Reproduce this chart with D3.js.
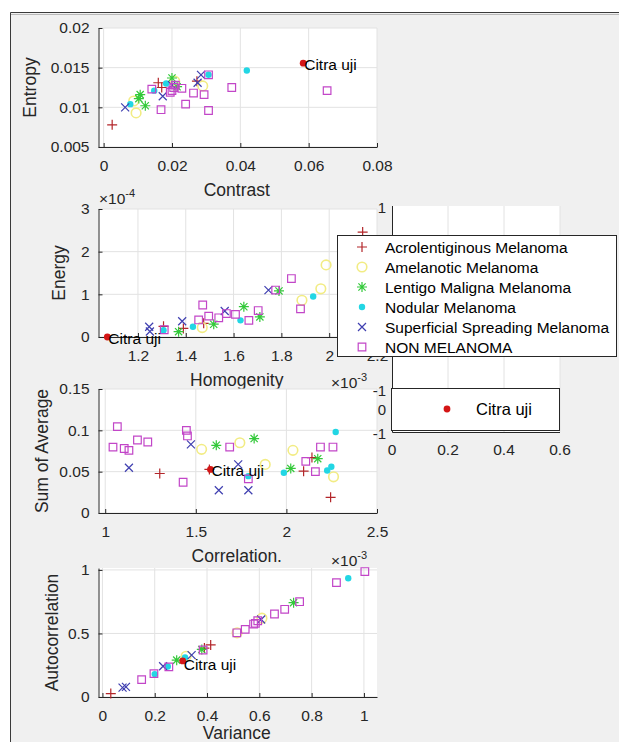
<!DOCTYPE html>
<html>
<head>
<meta charset="utf-8">
<script src="https://d3js.org/d3.v7.min.js"></script>
<style>
  body{ margin: 0; background: #fff; font-family: "Liberation Sans", Arial, Helvetica, sans-serif;}
  svg{ display: block;}
</style>
</head>
<body>
<script>
// class keys in the order of the legend
var classKeys = ['acro', 'amel', 'lentigo', 'nodular', 'ssm', 'non']
var classNames = ['Acrolentiginous Melanoma', 'Amelanotic Melanoma', 'Lentigo Maligna Melanoma',
  'Nodular Melanoma', 'Superficial Spreading Melanoma', 'NON MELANOMA']

// [class, x, y]
var contrastEntropy = [
  ['acro', 0.0025, 0.0078], ['acro', 0.016, 0.0131], ['acro', 0.017, 0.0125], ['acro', 0.0273, 0.0133],
  ['amel', 0.0095, 0.0093], ['amel', 0.0088, 0.0108], ['amel', 0.0208, 0.0133], ['amel', 0.029, 0.0127],
  ['lentigo', 0.0107, 0.0116], ['lentigo', 0.0103, 0.0111], ['lentigo', 0.0122, 0.0102], ['lentigo', 0.02, 0.0137], ['lentigo', 0.0215, 0.0126],
  ['nodular', 0.0078, 0.0104], ['nodular', 0.0148, 0.0121], ['nodular', 0.0183, 0.013], ['nodular', 0.0307, 0.0141], ['nodular', 0.0419, 0.01465],
  ['ssm', 0.0063, 0.01], ['ssm', 0.0173, 0.0114], ['ssm', 0.0275, 0.0131], ['ssm', 0.0285, 0.0141], ['ssm', 0.02, 0.0128],
  ['non', 0.0141, 0.0123], ['non', 0.0168, 0.0097], ['non', 0.0195, 0.0119], ['non', 0.02, 0.0121], ['non', 0.0205, 0.0125],
  ['non', 0.021, 0.0128], ['non', 0.0229, 0.0124], ['non', 0.024, 0.0104], ['non', 0.0263, 0.0118], ['non', 0.0294, 0.0116],
  ['non', 0.0307, 0.0096], ['non', 0.0307, 0.0141], ['non', 0.0375, 0.0125], ['non', 0.0654, 0.0121],
  ['citra', 0.0584, 0.01557]
]

// homogenity x 1e-3, energy x 1e-4
var homogenityEnergy = [
  ['acro', 1.307, 0.25], ['acro', 1.475, 0.32], ['acro', 1.39, 0.2], ['acro', 2.14, 2.46],
  ['amel', 1.469, 0.22], ['amel', 1.987, 1.69], ['amel', 1.965, 1.13], ['amel', 1.886, 0.86],
  ['lentigo', 1.37, 0.125], ['lentigo', 1.517, 0.3], ['lentigo', 1.643, 0.71], ['lentigo', 1.71, 0.47], ['lentigo', 1.79, 1.08],
  ['nodular', 1.307, 0.16], ['nodular', 1.43, 0.24], ['nodular', 1.629, 0.39], ['nodular', 1.933, 0.95],
  ['ssm', 1.247, 0.24], ['ssm', 1.25, 0.13], ['ssm', 1.385, 0.37], ['ssm', 1.563, 0.61], ['ssm', 1.746, 1.1],
  ['non', 1.471, 0.75], ['non', 1.454, 0.4], ['non', 1.496, 0.49], ['non', 1.538, 0.45], ['non', 1.57, 0.55],
  ['non', 1.608, 0.53], ['non', 1.664, 0.39], ['non', 1.703, 0.62], ['non', 1.776, 1.1], ['non', 1.842, 1.37],
  ['non', 1.88, 0.66], ['non', 1.31, 0.17],
  ['citra', 1.072, 0]
]

// correlation x 1e-3
var correlationSumAvg = [
  ['acro', 1.301, 0.0478], ['acro', 1.575, 0.0527], ['acro', 2.095, 0.0506], ['acro', 2.141, 0.067], ['acro', 2.244, 0.019],
  ['amel', 1.532, 0.077], ['amel', 1.743, 0.085], ['amel', 1.883, 0.0588], ['amel', 2.036, 0.0758], ['amel', 2.26, 0.0438],
  ['lentigo', 1.613, 0.0819], ['lentigo', 1.822, 0.09], ['lentigo', 2.024, 0.0539], ['lentigo', 2.173, 0.0657],
  ['nodular', 1.986, 0.0487], ['nodular', 1.79, 0.0446], ['nodular', 2.272, 0.098], ['nodular', 2.225, 0.0515], ['nodular', 2.248, 0.056],
  ['ssm', 1.131, 0.0547], ['ssm', 1.473, 0.0831], ['ssm', 1.627, 0.0275], ['ssm', 1.734, 0.0588], ['ssm', 1.79, 0.0275],
  ['non', 1.067, 0.1045], ['non', 1.043, 0.0797], ['non', 1.105, 0.078], ['non', 1.131, 0.0758], ['non', 1.178, 0.0883],
  ['non', 1.235, 0.0859], ['non', 1.43, 0.0372], ['non', 1.448, 0.1], ['non', 1.454, 0.0932], ['non', 1.687, 0.0798],
  ['non', 1.79, 0.0413], ['non', 2.188, 0.0798], ['non', 2.257, 0.0798], ['non', 2.107, 0.0625], ['non', 2.16, 0.05],
  ['citra', 1.581, 0.0527]
]

// variance x 1e-3
var varianceAutocorr = [
  ['acro', 0.032, 0.027], ['acro', 0.414, 0.41], ['acro', 0.39, 0.385],
  ['amel', 0.61, 0.62], ['amel', 0.32, 0.32], ['amel', 0.515, 0.505],
  ['lentigo', 0.731, 0.742], ['lentigo', 0.284, 0.29], ['lentigo', 0.38, 0.374],
  ['nodular', 0.94, 0.934], ['nodular', 0.2, 0.18], ['nodular', 0.25, 0.24], ['nodular', 0.316, 0.311],
  ['ssm', 0.077, 0.074], ['ssm', 0.09, 0.08], ['ssm', 0.232, 0.242], ['ssm', 0.341, 0.329], ['ssm', 0.607, 0.61],
  ['non', 0.15, 0.137], ['non', 0.197, 0.184], ['non', 0.254, 0.237], ['non', 0.514, 0.505], ['non', 0.546, 0.532],
  ['non', 0.578, 0.574], ['non', 0.594, 0.6], ['non', 0.585, 0.58], ['non', 0.658, 0.653], ['non', 0.697, 0.69],
  ['non', 0.754, 0.75], ['non', 0.895, 0.9], ['non', 1.0035, 0.987], ['non', 0.385, 0.37],
  ['citra', 0.307, 0.284]
]

var contrastTicks = [0, 0.02, 0.04, 0.06, 0.08]
var entropyTicks = [0.005, 0.01, 0.015, 0.02]
var homogenityTicks = [1.2, 1.4, 1.6, 1.8, 2, 2.2]
var energyTicks = [0, 1, 2, 3]
var correlationTicks = [1, 1.5, 2, 2.5]
var sumAvgTicks = [0, 0.05, 0.1, 0.15]
var varianceTicks = [0, 0.2, 0.4, 0.6, 0.8, 1]
var autocorrTicks = [0, 0.5, 1]
var emptyXTicks = [0, 0.2, 0.4, 0.6]

var W = 619, H = 742
var axisColor = '#262626', gridColor = '#e2e2e2'
var fontFam = '"Liberation Sans", Arial, Helvetica, sans-serif'

var markers = {
  acro:    { d: 'M-5,0H5M0,-5V5', stroke: '#b3262a', fill: 'none', w: 1.2 },
  amel:    { circle: 4.8, stroke: '#f2ec84', fill: 'none', w: 1.6 },
  lentigo: { d: 'M-5,0H5M0,-5V5M-3.6,-3.6L3.6,3.6M-3.6,3.6L3.6,-3.6', stroke: '#33c93a', fill: 'none', w: 1.2 },
  nodular: { circle: 3.2, stroke: 'none', fill: '#22d6e4', w: 0 },
  ssm:     { d: 'M-4,-4L4,4M-4,4L4,-4', stroke: '#3f3fb0', fill: 'none', w: 1.2 },
  non:     { d: 'M-3.8,-3.8H3.8V3.8H-3.8Z', stroke: '#c246c8', fill: 'none', w: 1.2 },
  citra:   { circle: 3.4, stroke: 'none', fill: '#d41515', w: 0 }
}

var svg = d3.select('body').append('svg').attr('width', W).attr('height', H)
  .style('font-family', fontFam)

// window frame
svg.append('rect').attr('width', W).attr('height', H).attr('fill', '#fff')
svg.append('rect').attr('x', 10).attr('y', 12).attr('width', W - 10).attr('height', H - 12)
  .attr('fill', '#f0f0f0')
svg.append('path').attr('d', 'M10.5,' + H + 'V12.5H' + W).attr('fill', 'none').attr('stroke', '#3a3a3a')
svg.append('path').attr('d', 'M11,14.5H' + W).attr('fill', 'none').attr('stroke', '#b8b8b8')

function drawMarker(sel, key){
  var m = markers[key]
  if (m.circle) {
    sel.append('circle').attr('r', m.circle).attr('fill', m.fill)
      .attr('stroke', m.stroke).attr('stroke-width', m.w)
  } else {
    sel.append('path').attr('d', m.d).attr('fill', m.fill)
      .attr('stroke', m.stroke).attr('stroke-width', m.w)
  }
}

var left = 98.5, right = 377

function panel(o){
  var x = d3.scaleLinear().domain(o.xDomain).range([left, right])
  var y = d3.scaleLinear().domain(o.yDomain).range([o.bottom, o.top])
  var g = svg.append('g')
  g.append('rect').attr('x', left).attr('y', o.top).attr('width', right - left)
    .attr('height', o.bottom - o.top).attr('fill', '#fff')

  g.selectAll('.gx').data(o.xTicks).enter().append('line')
    .attr('x1', function(d){ return x(d) }).attr('x2', function(d){ return x(d) })
    .attr('y1', o.top).attr('y2', o.bottom).attr('stroke', gridColor)
  g.selectAll('.gy').data(o.yTicks).enter().append('line')
    .attr('y1', function(d){ return y(d) }).attr('y2', function(d){ return y(d) })
    .attr('x1', left).attr('x2', right).attr('stroke', gridColor)

  var fmt = function(d){ return String(+d.toFixed(6)) }
  var xa = g.append('g').attr('transform', 'translate(0,' + o.bottom + ')')
    .call(d3.axisBottom(x).tickValues(o.xTicks).tickFormat(fmt)
      .tickSizeInner(-4).tickSizeOuter(0).tickPadding(13))
  var ya = g.append('g').attr('transform', 'translate(' + left + ',0)')
    .call(d3.axisLeft(y).tickValues(o.yTicks).tickFormat(fmt)
      .tickSizeInner(-4).tickSizeOuter(0).tickPadding(9))
  ;[xa, ya].forEach(function(a){
    a.attr('font-size', 15.5).attr('font-family', fontFam)
    a.selectAll('path, line').attr('stroke', axisColor)
    a.selectAll('text').attr('fill', axisColor)
  })

  // points, legend order, test image last
  var order = classKeys.concat(['citra'])
  order.forEach(function(k){
    o.data.filter(function(r){ return r[0] === k }).forEach(function(r){
      var p = g.append('g').attr('transform', 'translate(' + x(r[1]) + ',' + y(r[2]) + ')')
      drawMarker(p, k)
    })
  })
  o.data.filter(function(r){ return r[0] === 'citra' }).forEach(function(r){
    g.append('text').attr('x', x(r[1]) + 1).attr('y', y(r[2]) + o.labelDy)
      .attr('font-size', 15.5).attr('fill', '#000').attr('dominant-baseline', 'central')
      .text('Citra uji')
  })

  g.append('text').attr('x', (left + right) / 2 - 1).attr('y', o.bottom + o.xLabelDy)
    .attr('text-anchor', 'middle').attr('dominant-baseline', 'central')
    .attr('font-size', 17.5).attr('fill', axisColor)
    .text(o.xLabel)
  g.append('text').attr('transform', 'translate(' + o.yLabelX + ',' + ((o.top + o.bottom) / 2) + ') rotate(-90)')
    .attr('text-anchor', 'middle').attr('dominant-baseline', 'central')
    .attr('font-size', 17.5).attr('fill', axisColor).text(o.yLabel)
}

function exponent(px, py, p){
  var t = svg.append('text').attr('x', px).attr('y', py).attr('font-size', 15.5).attr('fill', axisColor)
  t.append('tspan').text('\u00d710')
  t.append('tspan').attr('dy', -7).attr('font-size', 11).text(p)
}

panel({ data: contrastEntropy, xDomain: [-0.0015, 0.08], yDomain: [0.005, 0.02],
  xTicks: contrastTicks, yTicks: entropyTicks, top: 28, bottom: 147, xLabelDy: 43,
  xLabel: 'Contrast', yLabel: 'Entropy', yLabelX: 30, labelDy: 1 })
panel({ data: homogenityEnergy, xDomain: [1.035, 2.2], yDomain: [0, 3],
  xTicks: homogenityTicks, yTicks: energyTicks, top: 209, bottom: 337, xLabelDy: 43,
  xLabel: 'Homogenity', yLabel: 'Energy', yLabelX: 59, labelDy: 1 })
panel({ data: correlationSumAvg, xDomain: [0.963, 2.5], yDomain: [0, 0.15],
  xTicks: correlationTicks, yTicks: sumAvgTicks, top: 389, bottom: 513, xLabelDy: 43,
  xLabel: 'Correlation.', yLabel: 'Sum of Average', yLabelX: 42, labelDy: 1 })
panel({ data: varianceAutocorr, xDomain: [-0.015, 1.05], yDomain: [0, 1.015],
  xTicks: varianceTicks, yTicks: autocorrTicks, top: 568, bottom: 697, xLabelDy: 36,
  xLabel: 'Variance', yLabel: 'Autocorrelation', yLabelX: 52, labelDy: 4 })

exponent(99, 204, '-4')
exponent(331, 388, '-3')
exponent(331, 566, '-3')

// empty axes on the right
var ex = d3.scaleLinear().domain([0, 0.6]).range([392, 560])
var eg = svg.append('g')
eg.append('rect').attr('x', 392).attr('y', 206).attr('width', 168).attr('height', 226).attr('fill', '#fff')
eg.selectAll('.eg').data(emptyXTicks.slice(1)).enter().append('line')
  .attr('x1', function(d){ return ex(d) }).attr('x2', function(d){ return ex(d) })
  .attr('y1', 206).attr('y2', 432).attr('stroke', gridColor)
eg.append('path').attr('d', 'M392.5,206V432.5H560').attr('fill', 'none').attr('stroke', axisColor)
eg.selectAll('.ex').data(emptyXTicks).enter().append('text')
  .attr('x', function(d){ return ex(d) }).attr('y', 449).attr('text-anchor', 'middle')
  .attr('dominant-baseline', 'central').attr('font-size', 15.5).attr('fill', axisColor)
  .text(function(d){ return String(d) })
var eyLabels = [['1', 207], ['-1', 390], ['0', 409], ['-1', 433]]
eg.selectAll('.ey').data(eyLabels).enter().append('text')
  .attr('x', 386).attr('y', function(d){ return d[1] }).attr('text-anchor', 'end')
  .attr('dominant-baseline', 'central').attr('font-size', 15).attr('fill', axisColor)
  .text(function(d){ return d[0] })

// main legend
var lg = svg.append('g')
lg.append('rect').attr('x', 337.5).attr('y', 235.5).attr('width', 279).attr('height', 121)
  .attr('fill', '#fff').attr('stroke', axisColor)
classKeys.forEach(function(k, i){
  var yy = 247 + i * 20
  drawMarker(lg.append('g').attr('transform', 'translate(362,' + yy + ')'), k)
  lg.append('text').attr('x', 385).attr('y', yy).attr('dominant-baseline', 'central')
    .attr('font-size', 15.5).attr('fill', '#000').text(classNames[i])
})

// test image legend
var lg2 = svg.append('g')
lg2.append('rect').attr('x', 391.5).attr('y', 388.5).attr('width', 168).attr('height', 42)
  .attr('fill', '#fff').attr('stroke', axisColor)
drawMarker(lg2.append('g').attr('transform', 'translate(447,409)'), 'citra')
lg2.append('text').attr('x', 476).attr('y', 409).attr('dominant-baseline', 'central')
  .attr('font-size', 16.5).attr('fill', '#000').text('Citra uji')
</script>
</body>
</html>
